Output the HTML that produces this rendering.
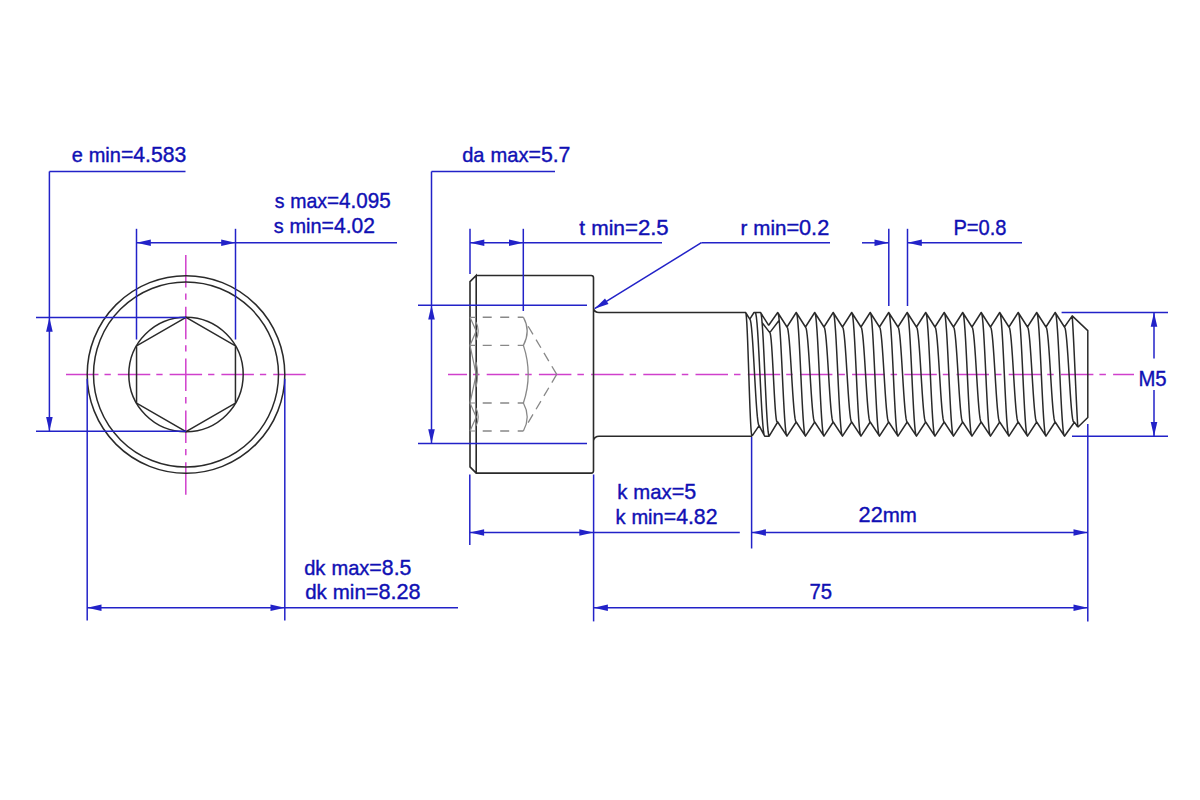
<!DOCTYPE html>
<html><head><meta charset="utf-8"><style>
html,body{margin:0;padding:0;background:#fff;width:1200px;height:800px;overflow:hidden}
svg{display:block}
text{font-family:"Liberation Sans",sans-serif;fill:#1010b4;stroke:#1010b4;stroke-width:0.4px}
</style></head><body>
<svg width="1200" height="800" viewBox="0 0 1200 800">
<rect width="1200" height="800" fill="#fff"/>
<line x1="66.00" y1="374.50" x2="306.00" y2="374.50" stroke="#d040cc" stroke-width="1.5" stroke-dasharray="32.5 6 6.3 7"/>
<line x1="185.80" y1="255.00" x2="185.80" y2="495.00" stroke="#d040cc" stroke-width="1.5" stroke-dasharray="32.5 6 6.3 7"/>
<circle cx="186.0" cy="374.5" r="98.8" fill="none" stroke="#2a2a2a" stroke-width="1.5"/>
<circle cx="186.0" cy="374.5" r="92.5" fill="none" stroke="#2a2a2a" stroke-width="1.5"/>
<circle cx="186.0" cy="374.5" r="57.2" fill="none" stroke="#2a2a2a" stroke-width="1.5"/>
<polygon points="186.00,317.40 136.55,345.95 136.55,403.05 186.00,431.60 235.45,403.05 235.45,345.95" fill="none" stroke="#2a2a2a" stroke-width="1.5"/>
<line x1="49.40" y1="171.50" x2="185.50" y2="171.50" stroke="#2222c8" stroke-width="1.5" />
<line x1="49.40" y1="171.50" x2="49.40" y2="431.30" stroke="#2222c8" stroke-width="1.5" />
<line x1="36.00" y1="317.40" x2="186.00" y2="317.40" stroke="#2222c8" stroke-width="1.5" />
<line x1="36.00" y1="431.30" x2="186.00" y2="431.30" stroke="#2222c8" stroke-width="1.5" />
<polygon points="49.40,317.40 52.70,331.70 46.10,331.70" fill="#2222c8"/>
<polygon points="49.40,431.30 46.10,417.00 52.70,417.00" fill="#2222c8"/>
<text x="71.70" y="161.70" textLength="114.50" lengthAdjust="spacingAndGlyphs" xml:space="preserve"><tspan font-size="20.6">e</tspan><tspan font-size="21.8"> </tspan><tspan font-size="20.6">min</tspan><tspan font-size="21.8">=4.583</tspan></text>
<line x1="136.50" y1="228.80" x2="136.50" y2="339.50" stroke="#2222c8" stroke-width="1.5" />
<line x1="235.50" y1="228.80" x2="235.50" y2="339.50" stroke="#2222c8" stroke-width="1.5" />
<line x1="136.50" y1="242.80" x2="397.00" y2="242.80" stroke="#2222c8" stroke-width="1.5" />
<polygon points="136.50,242.80 150.80,239.50 150.80,246.10" fill="#2222c8"/>
<polygon points="235.50,242.80 221.20,246.10 221.20,239.50" fill="#2222c8"/>
<text x="274.70" y="208.25" textLength="116.00" lengthAdjust="spacingAndGlyphs" xml:space="preserve"><tspan font-size="20.6">s</tspan><tspan font-size="21.8"> </tspan><tspan font-size="20.6">max</tspan><tspan font-size="21.8">=4.095</tspan></text>
<text x="273.70" y="232.50" textLength="101.25" lengthAdjust="spacingAndGlyphs" xml:space="preserve"><tspan font-size="20.6">s</tspan><tspan font-size="21.8"> </tspan><tspan font-size="20.6">min</tspan><tspan font-size="21.8">=4.02</tspan></text>
<line x1="87.20" y1="378.80" x2="87.20" y2="620.60" stroke="#2222c8" stroke-width="1.5" />
<line x1="284.80" y1="378.80" x2="284.80" y2="620.60" stroke="#2222c8" stroke-width="1.5" />
<line x1="87.20" y1="607.80" x2="458.00" y2="607.80" stroke="#2222c8" stroke-width="1.5" />
<polygon points="87.20,607.80 101.50,604.50 101.50,611.10" fill="#2222c8"/>
<polygon points="284.80,607.80 270.50,611.10 270.50,604.50" fill="#2222c8"/>
<text x="304.20" y="574.50" textLength="107.20" lengthAdjust="spacingAndGlyphs" xml:space="preserve"><tspan font-size="20.6">dk</tspan><tspan font-size="21.8"> </tspan><tspan font-size="20.6">max</tspan><tspan font-size="21.8">=8.5</tspan></text>
<text x="305.20" y="598.90" textLength="115.40" lengthAdjust="spacingAndGlyphs" xml:space="preserve"><tspan font-size="20.6">dk</tspan><tspan font-size="21.8"> </tspan><tspan font-size="20.6">min</tspan><tspan font-size="21.8">=8.28</tspan></text>
<line x1="448.00" y1="374.40" x2="1134.00" y2="374.40" stroke="#d040cc" stroke-width="1.5" stroke-dasharray="32.5 6 6.5 7.2" stroke-dashoffset="13.5"/>
<path d="M476,275.5 L591.2,275.5 Q593.5,275.5 593.5,277.8 L593.5,470.8 Q593.5,473.1 591.2,473.1 L476.2,473.1 L470,466.8 L470,281.7 L476.2,275.5 L476.2,473.1 M593.5,308.5 Q594.6,312.5 599,312.5 L746,312.5 M593.5,440.5 Q594.6,436.2 599,436.2 L752,436.2" fill="none" stroke="#2a2a2a" stroke-width="1.6" />
<line x1="476.00" y1="317.30" x2="523.40" y2="317.30" stroke="#888" stroke-width="1.4" stroke-dasharray="0 6.7 9 8.5 9 8.5 6"/>
<line x1="476.00" y1="345.40" x2="523.40" y2="345.40" stroke="#888" stroke-width="1.4" stroke-dasharray="0 6.7 9 8.5 9 8.5 6"/>
<line x1="476.00" y1="403.00" x2="523.40" y2="403.00" stroke="#888" stroke-width="1.4" stroke-dasharray="0 6.7 9 8.5 9 8.5 6"/>
<line x1="476.00" y1="431.00" x2="523.40" y2="431.00" stroke="#888" stroke-width="1.4" stroke-dasharray="0 6.7 9 8.5 9 8.5 6"/>
<path d="M523.4,317.3 Q531,331 523.4,345.4 Q533,374.4 523.4,403 Q531,417 523.4,431" fill="none" stroke="#888" stroke-width="1.3" />
<line x1="556.70" y1="374.40" x2="528.00" y2="326.00" stroke="#888" stroke-width="1.3" stroke-dasharray="9.5 6"/>
<line x1="556.70" y1="374.40" x2="528.00" y2="422.80" stroke="#888" stroke-width="1.3" stroke-dasharray="9.5 6"/>
<path d="M470,317.3 L476.2,331 L470,345.4 L476.2,374.4 L470,403 L476.2,417 L470,431 M470,317.3 L476,317.3 M470,345.4 L476,345.4 M470,403 L476,403 M470,431 L476,431" fill="none" stroke="#888" stroke-width="1.2" />
<path d="M476,322 Q480.4,331 476,340 M476,362 Q479.2,374.4 476,387 M476,408 Q480.4,417 476,426" fill="none" stroke="#888" stroke-width="1.2" />
<line x1="431.50" y1="171.50" x2="555.00" y2="171.50" stroke="#2222c8" stroke-width="1.5" />
<line x1="431.50" y1="171.50" x2="431.50" y2="443.50" stroke="#2222c8" stroke-width="1.5" />
<line x1="418.00" y1="305.20" x2="587.00" y2="305.20" stroke="#2222c8" stroke-width="1.5" />
<line x1="418.00" y1="443.50" x2="587.00" y2="443.50" stroke="#2222c8" stroke-width="1.5" />
<polygon points="431.50,305.20 434.80,319.50 428.20,319.50" fill="#2222c8"/>
<polygon points="431.50,443.50 428.20,429.20 434.80,429.20" fill="#2222c8"/>
<text x="462.20" y="161.75" textLength="108.25" lengthAdjust="spacingAndGlyphs" xml:space="preserve"><tspan font-size="20.6">da</tspan><tspan font-size="21.8"> </tspan><tspan font-size="20.6">max</tspan><tspan font-size="21.8">=5.7</tspan></text>
<line x1="470.00" y1="228.80" x2="470.00" y2="274.00" stroke="#2222c8" stroke-width="1.5" />
<line x1="523.30" y1="228.80" x2="523.30" y2="311.00" stroke="#2222c8" stroke-width="1.5" />
<line x1="470.00" y1="242.80" x2="662.00" y2="242.80" stroke="#2222c8" stroke-width="1.5" />
<polygon points="470.00,242.80 484.30,239.50 484.30,246.10" fill="#2222c8"/>
<polygon points="523.30,242.80 509.00,246.10 509.00,239.50" fill="#2222c8"/>
<text x="579.20" y="234.50" textLength="89.50" lengthAdjust="spacingAndGlyphs" xml:space="preserve"><tspan font-size="20.6">t</tspan><tspan font-size="21.8"> </tspan><tspan font-size="20.6">min</tspan><tspan font-size="21.8">=2.5</tspan></text>
<line x1="701.40" y1="242.70" x2="830.00" y2="242.70" stroke="#2222c8" stroke-width="1.5" />
<line x1="701.40" y1="242.70" x2="594.60" y2="308.70" stroke="#2222c8" stroke-width="1.5" />
<polygon points="594.60,308.70 605.03,298.38 608.50,303.99" fill="#2222c8"/>
<text x="740.50" y="234.70" textLength="88.70" lengthAdjust="spacingAndGlyphs" xml:space="preserve"><tspan font-size="20.6">r</tspan><tspan font-size="21.8"> </tspan><tspan font-size="20.6">min</tspan><tspan font-size="21.8">=0.2</tspan></text>
<line x1="888.80" y1="228.80" x2="888.80" y2="306.00" stroke="#2222c8" stroke-width="1.5" />
<line x1="907.50" y1="228.80" x2="907.50" y2="306.00" stroke="#2222c8" stroke-width="1.5" />
<line x1="862.00" y1="242.80" x2="888.80" y2="242.80" stroke="#2222c8" stroke-width="1.5" />
<line x1="907.50" y1="242.80" x2="1022.00" y2="242.80" stroke="#2222c8" stroke-width="1.5" />
<polygon points="888.80,242.80 874.50,246.10 874.50,239.50" fill="#2222c8"/>
<polygon points="907.50,242.80 921.80,239.50 921.80,246.10" fill="#2222c8"/>
<text x="953.40" y="235.00" textLength="53.10" lengthAdjust="spacingAndGlyphs" xml:space="preserve"><tspan font-size="21.8">P=0.8</tspan></text>
<line x1="1061.60" y1="312.50" x2="1168.00" y2="312.50" stroke="#2222c8" stroke-width="1.5" />
<line x1="1072.00" y1="436.20" x2="1168.00" y2="436.20" stroke="#2222c8" stroke-width="1.5" />
<line x1="1154.00" y1="312.50" x2="1154.00" y2="358.50" stroke="#2222c8" stroke-width="1.5" />
<line x1="1154.00" y1="390.00" x2="1154.00" y2="436.20" stroke="#2222c8" stroke-width="1.5" />
<polygon points="1154.00,312.50 1157.30,326.80 1150.70,326.80" fill="#2222c8"/>
<polygon points="1154.00,436.20 1150.70,421.90 1157.30,421.90" fill="#2222c8"/>
<text x="1138.40" y="385.60" textLength="28.20" lengthAdjust="spacingAndGlyphs" xml:space="preserve"><tspan font-size="21.8">M5</tspan></text>
<line x1="469.80" y1="474.50" x2="469.80" y2="545.00" stroke="#2222c8" stroke-width="1.5" />
<line x1="593.60" y1="474.50" x2="593.60" y2="621.40" stroke="#2222c8" stroke-width="1.5" />
<line x1="469.80" y1="532.50" x2="739.80" y2="532.50" stroke="#2222c8" stroke-width="1.5" />
<polygon points="469.80,532.50 484.10,529.20 484.10,535.80" fill="#2222c8"/>
<polygon points="593.60,532.50 579.30,535.80 579.30,529.20" fill="#2222c8"/>
<text x="617.20" y="498.80" textLength="79.00" lengthAdjust="spacingAndGlyphs" xml:space="preserve"><tspan font-size="20.6">k</tspan><tspan font-size="21.8"> </tspan><tspan font-size="20.6">max</tspan><tspan font-size="21.8">=5</tspan></text>
<text x="615.45" y="523.80" textLength="102.05" lengthAdjust="spacingAndGlyphs" xml:space="preserve"><tspan font-size="20.6">k</tspan><tspan font-size="21.8"> </tspan><tspan font-size="20.6">min</tspan><tspan font-size="21.8">=4.82</tspan></text>
<line x1="751.60" y1="437.00" x2="751.60" y2="548.50" stroke="#2222c8" stroke-width="1.5" />
<line x1="1087.80" y1="424.00" x2="1087.80" y2="621.40" stroke="#2222c8" stroke-width="1.5" />
<line x1="751.60" y1="532.50" x2="1087.80" y2="532.50" stroke="#2222c8" stroke-width="1.5" />
<polygon points="751.60,532.50 765.90,529.20 765.90,535.80" fill="#2222c8"/>
<polygon points="1087.80,532.50 1073.50,535.80 1073.50,529.20" fill="#2222c8"/>
<text x="858.60" y="522.30" textLength="58.30" lengthAdjust="spacingAndGlyphs" xml:space="preserve"><tspan font-size="21.8">22</tspan><tspan font-size="20.6">mm</tspan></text>
<line x1="593.60" y1="607.80" x2="1087.80" y2="607.80" stroke="#2222c8" stroke-width="1.5" />
<polygon points="593.60,607.80 607.90,604.50 607.90,611.10" fill="#2222c8"/>
<polygon points="1087.80,607.80 1073.50,611.10 1073.50,604.50" fill="#2222c8"/>
<text x="809.50" y="598.60" textLength="22.60" lengthAdjust="spacingAndGlyphs" xml:space="preserve"><tspan font-size="21.8">75</tspan></text>
<path d="M777.70,312.50 L778.28,313.69 L778.86,317.21 L779.43,322.92 L780.01,330.62 L780.59,339.99 L781.17,350.68 L781.75,362.28 L782.33,374.35 L782.90,386.42 L783.48,398.02 L784.06,408.71 L784.64,418.08 L785.22,425.78 L785.79,431.49 L786.37,435.01 L786.95,436.20 M786.95,327.00 L787.53,327.91 L788.11,330.62 L788.68,335.01 L789.26,340.91 L789.84,348.11 L790.42,356.32 L791.00,365.23 L791.58,374.50 L792.15,383.77 L792.73,392.68 L793.31,400.89 L793.89,408.09 L794.47,413.99 L795.04,418.38 L795.62,421.09 L796.20,422.00 M796.20,312.50 L796.78,313.69 L797.36,317.21 L797.93,322.92 L798.51,330.62 L799.09,339.99 L799.67,350.68 L800.25,362.28 L800.83,374.35 L801.40,386.42 L801.98,398.02 L802.56,408.71 L803.14,418.08 L803.72,425.78 L804.29,431.49 L804.87,435.01 L805.45,436.20 M805.45,327.00 L806.03,327.91 L806.61,330.62 L807.18,335.01 L807.76,340.91 L808.34,348.11 L808.92,356.32 L809.50,365.23 L810.08,374.50 L810.65,383.77 L811.23,392.68 L811.81,400.89 L812.39,408.09 L812.97,413.99 L813.54,418.38 L814.12,421.09 L814.70,422.00 M814.70,312.50 L815.28,313.69 L815.86,317.21 L816.43,322.92 L817.01,330.62 L817.59,339.99 L818.17,350.68 L818.75,362.28 L819.33,374.35 L819.90,386.42 L820.48,398.02 L821.06,408.71 L821.64,418.08 L822.22,425.78 L822.79,431.49 L823.37,435.01 L823.95,436.20 M823.95,327.00 L824.53,327.91 L825.11,330.62 L825.68,335.01 L826.26,340.91 L826.84,348.11 L827.42,356.32 L828.00,365.23 L828.58,374.50 L829.15,383.77 L829.73,392.68 L830.31,400.89 L830.89,408.09 L831.47,413.99 L832.04,418.38 L832.62,421.09 L833.20,422.00 M833.20,312.50 L833.78,313.69 L834.36,317.21 L834.93,322.92 L835.51,330.62 L836.09,339.99 L836.67,350.68 L837.25,362.28 L837.83,374.35 L838.40,386.42 L838.98,398.02 L839.56,408.71 L840.14,418.08 L840.72,425.78 L841.29,431.49 L841.87,435.01 L842.45,436.20 M842.45,327.00 L843.03,327.91 L843.61,330.62 L844.18,335.01 L844.76,340.91 L845.34,348.11 L845.92,356.32 L846.50,365.23 L847.08,374.50 L847.65,383.77 L848.23,392.68 L848.81,400.89 L849.39,408.09 L849.97,413.99 L850.54,418.38 L851.12,421.09 L851.70,422.00 M851.70,312.50 L852.28,313.69 L852.86,317.21 L853.43,322.92 L854.01,330.62 L854.59,339.99 L855.17,350.68 L855.75,362.28 L856.33,374.35 L856.90,386.42 L857.48,398.02 L858.06,408.71 L858.64,418.08 L859.22,425.78 L859.79,431.49 L860.37,435.01 L860.95,436.20 M860.95,327.00 L861.53,327.91 L862.11,330.62 L862.68,335.01 L863.26,340.91 L863.84,348.11 L864.42,356.32 L865.00,365.23 L865.58,374.50 L866.15,383.77 L866.73,392.68 L867.31,400.89 L867.89,408.09 L868.47,413.99 L869.04,418.38 L869.62,421.09 L870.20,422.00 M870.20,312.50 L870.78,313.69 L871.36,317.21 L871.93,322.92 L872.51,330.62 L873.09,339.99 L873.67,350.68 L874.25,362.28 L874.83,374.35 L875.40,386.42 L875.98,398.02 L876.56,408.71 L877.14,418.08 L877.72,425.78 L878.29,431.49 L878.87,435.01 L879.45,436.20 M879.45,327.00 L880.03,327.91 L880.61,330.62 L881.18,335.01 L881.76,340.91 L882.34,348.11 L882.92,356.32 L883.50,365.23 L884.08,374.50 L884.65,383.77 L885.23,392.68 L885.81,400.89 L886.39,408.09 L886.97,413.99 L887.54,418.38 L888.12,421.09 L888.70,422.00 M888.70,312.50 L889.28,313.69 L889.86,317.21 L890.43,322.92 L891.01,330.62 L891.59,339.99 L892.17,350.68 L892.75,362.28 L893.33,374.35 L893.90,386.42 L894.48,398.02 L895.06,408.71 L895.64,418.08 L896.22,425.78 L896.79,431.49 L897.37,435.01 L897.95,436.20 M897.95,327.00 L898.53,327.91 L899.11,330.62 L899.68,335.01 L900.26,340.91 L900.84,348.11 L901.42,356.32 L902.00,365.23 L902.58,374.50 L903.15,383.77 L903.73,392.68 L904.31,400.89 L904.89,408.09 L905.47,413.99 L906.04,418.38 L906.62,421.09 L907.20,422.00 M907.20,312.50 L907.78,313.69 L908.36,317.21 L908.93,322.92 L909.51,330.62 L910.09,339.99 L910.67,350.68 L911.25,362.28 L911.83,374.35 L912.40,386.42 L912.98,398.02 L913.56,408.71 L914.14,418.08 L914.72,425.78 L915.29,431.49 L915.87,435.01 L916.45,436.20 M916.45,327.00 L917.03,327.91 L917.61,330.62 L918.18,335.01 L918.76,340.91 L919.34,348.11 L919.92,356.32 L920.50,365.23 L921.08,374.50 L921.65,383.77 L922.23,392.68 L922.81,400.89 L923.39,408.09 L923.97,413.99 L924.54,418.38 L925.12,421.09 L925.70,422.00 M925.70,312.50 L926.28,313.69 L926.86,317.21 L927.43,322.92 L928.01,330.62 L928.59,339.99 L929.17,350.68 L929.75,362.28 L930.33,374.35 L930.90,386.42 L931.48,398.02 L932.06,408.71 L932.64,418.08 L933.22,425.78 L933.79,431.49 L934.37,435.01 L934.95,436.20 M934.95,327.00 L935.53,327.91 L936.11,330.62 L936.68,335.01 L937.26,340.91 L937.84,348.11 L938.42,356.32 L939.00,365.23 L939.58,374.50 L940.15,383.77 L940.73,392.68 L941.31,400.89 L941.89,408.09 L942.47,413.99 L943.04,418.38 L943.62,421.09 L944.20,422.00 M944.20,312.50 L944.78,313.69 L945.36,317.21 L945.93,322.92 L946.51,330.62 L947.09,339.99 L947.67,350.68 L948.25,362.28 L948.83,374.35 L949.40,386.42 L949.98,398.02 L950.56,408.71 L951.14,418.08 L951.72,425.78 L952.29,431.49 L952.87,435.01 L953.45,436.20 M953.45,327.00 L954.03,327.91 L954.61,330.62 L955.18,335.01 L955.76,340.91 L956.34,348.11 L956.92,356.32 L957.50,365.23 L958.08,374.50 L958.65,383.77 L959.23,392.68 L959.81,400.89 L960.39,408.09 L960.97,413.99 L961.54,418.38 L962.12,421.09 L962.70,422.00 M962.70,312.50 L963.28,313.69 L963.86,317.21 L964.43,322.92 L965.01,330.62 L965.59,339.99 L966.17,350.68 L966.75,362.28 L967.33,374.35 L967.90,386.42 L968.48,398.02 L969.06,408.71 L969.64,418.08 L970.22,425.78 L970.79,431.49 L971.37,435.01 L971.95,436.20 M971.95,327.00 L972.53,327.91 L973.11,330.62 L973.68,335.01 L974.26,340.91 L974.84,348.11 L975.42,356.32 L976.00,365.23 L976.58,374.50 L977.15,383.77 L977.73,392.68 L978.31,400.89 L978.89,408.09 L979.47,413.99 L980.04,418.38 L980.62,421.09 L981.20,422.00 M981.20,312.50 L981.78,313.69 L982.36,317.21 L982.93,322.92 L983.51,330.62 L984.09,339.99 L984.67,350.68 L985.25,362.28 L985.83,374.35 L986.40,386.42 L986.98,398.02 L987.56,408.71 L988.14,418.08 L988.72,425.78 L989.29,431.49 L989.87,435.01 L990.45,436.20 M990.45,327.00 L991.03,327.91 L991.61,330.62 L992.18,335.01 L992.76,340.91 L993.34,348.11 L993.92,356.32 L994.50,365.23 L995.08,374.50 L995.65,383.77 L996.23,392.68 L996.81,400.89 L997.39,408.09 L997.97,413.99 L998.54,418.38 L999.12,421.09 L999.70,422.00 M999.70,312.50 L1000.28,313.69 L1000.86,317.21 L1001.43,322.92 L1002.01,330.62 L1002.59,339.99 L1003.17,350.68 L1003.75,362.28 L1004.33,374.35 L1004.90,386.42 L1005.48,398.02 L1006.06,408.71 L1006.64,418.08 L1007.22,425.78 L1007.79,431.49 L1008.37,435.01 L1008.95,436.20 M1008.95,327.00 L1009.53,327.91 L1010.11,330.62 L1010.68,335.01 L1011.26,340.91 L1011.84,348.11 L1012.42,356.32 L1013.00,365.23 L1013.58,374.50 L1014.15,383.77 L1014.73,392.68 L1015.31,400.89 L1015.89,408.09 L1016.47,413.99 L1017.04,418.38 L1017.62,421.09 L1018.20,422.00 M1018.20,312.50 L1018.78,313.69 L1019.36,317.21 L1019.93,322.92 L1020.51,330.62 L1021.09,339.99 L1021.67,350.68 L1022.25,362.28 L1022.83,374.35 L1023.40,386.42 L1023.98,398.02 L1024.56,408.71 L1025.14,418.08 L1025.72,425.78 L1026.29,431.49 L1026.87,435.01 L1027.45,436.20 M1027.45,327.00 L1028.03,327.91 L1028.61,330.62 L1029.18,335.01 L1029.76,340.91 L1030.34,348.11 L1030.92,356.32 L1031.50,365.23 L1032.08,374.50 L1032.65,383.77 L1033.23,392.68 L1033.81,400.89 L1034.39,408.09 L1034.97,413.99 L1035.54,418.38 L1036.12,421.09 L1036.70,422.00 M1036.70,312.50 L1037.28,313.69 L1037.86,317.21 L1038.43,322.92 L1039.01,330.62 L1039.59,339.99 L1040.17,350.68 L1040.75,362.28 L1041.33,374.35 L1041.90,386.42 L1042.48,398.02 L1043.06,408.71 L1043.64,418.08 L1044.22,425.78 L1044.79,431.49 L1045.37,435.01 L1045.95,436.20 M1045.95,327.00 L1046.53,327.91 L1047.11,330.62 L1047.68,335.01 L1048.26,340.91 L1048.84,348.11 L1049.42,356.32 L1050.00,365.23 L1050.58,374.50 L1051.15,383.77 L1051.73,392.68 L1052.31,400.89 L1052.89,408.09 L1053.47,413.99 L1054.04,418.38 L1054.62,421.09 L1055.20,422.00 M1055.20,312.50 L1055.78,313.69 L1056.36,317.21 L1056.93,322.92 L1057.51,330.62 L1058.09,339.99 L1058.67,350.68 L1059.25,362.28 L1059.83,374.35 L1060.40,386.42 L1060.98,398.02 L1061.56,408.71 L1062.14,418.08 L1062.72,425.78 L1063.29,431.49 L1063.87,435.01 L1064.45,436.20 M1064.45,327.00 L1065.03,327.91 L1065.61,330.62 L1066.18,335.01 L1066.76,340.91 L1067.34,348.11 L1067.92,356.32 L1068.50,365.23 L1069.08,374.50 L1069.65,383.77 L1070.23,392.68 L1070.81,400.89 L1071.39,408.09 L1071.97,413.99 L1072.54,418.38 L1073.12,421.09 L1073.70,422.00 M768.70,325.30 L777.70,312.50 L786.95,327.00 L796.20,312.50 L805.45,327.00 L814.70,312.50 L823.95,327.00 L833.20,312.50 L842.45,327.00 L851.70,312.50 L860.95,327.00 L870.20,312.50 L879.45,327.00 L888.70,312.50 L897.95,327.00 L907.20,312.50 L916.45,327.00 L925.70,312.50 L934.95,327.00 L944.20,312.50 L953.45,327.00 L962.70,312.50 L971.95,327.00 L981.20,312.50 L990.45,327.00 L999.70,312.50 L1008.95,327.00 L1018.20,312.50 L1027.45,327.00 L1036.70,312.50 L1045.95,327.00 L1055.20,312.50 L1064.45,327.00 L1072.20,315.90 L1087.80,330.60 L1087.80,417.50 L1077.80,427.20 M752,436.2 L759.10,425.60 L764.70,436.20 L769.20,436.20 L777.70,422.00 L786.95,436.20 L796.20,422.00 L805.45,436.20 L814.70,422.00 L823.95,436.20 L833.20,422.00 L842.45,436.20 L851.70,422.00 L860.95,436.20 L870.20,422.00 L879.45,436.20 L888.70,422.00 L897.95,436.20 L907.20,422.00 L916.45,436.20 L925.70,422.00 L934.95,436.20 L944.20,422.00 L953.45,436.20 L962.70,422.00 L971.95,436.20 L981.20,422.00 L990.45,436.20 L999.70,422.00 L1008.95,436.20 L1018.20,422.00 L1027.45,436.20 L1036.70,422.00 L1045.95,436.20 L1055.20,422.00 L1064.45,436.20 L1074.40,422.20 L1077.80,427.20 M1072.2,315.9 C1074,340 1076,400 1077.8,427.2 M745.60,312.50 L746.00,313.69 L746.40,317.21 L746.80,322.92 L747.20,330.62 L747.60,339.99 L748.00,350.68 L748.40,362.28 L748.80,374.35 L749.20,386.42 L749.60,398.02 L750.00,408.71 L750.40,418.08 L750.80,425.78 L751.20,431.49 L751.60,435.01 L752.00,436.20 M745.6,312.5 L749.8,319.1 L754,312.5 L760.5,312.5 L768.7,325.3 M749.80,319.10 L750.38,320.12 L750.96,323.15 L751.54,328.07 L752.12,334.70 L752.71,342.77 L753.29,351.97 L753.87,361.96 L754.45,372.35 L755.03,382.74 L755.61,392.73 L756.19,401.93 L756.77,410.00 L757.36,416.63 L757.94,421.55 L758.52,424.58 L759.10,425.60 M755.20,312.50 L755.79,313.69 L756.39,317.21 L756.98,322.92 L757.58,330.62 L758.17,339.99 L758.76,350.68 L759.36,362.28 L759.95,374.35 L760.54,386.42 L761.14,398.02 L761.73,408.71 L762.33,418.08 L762.92,425.78 L763.51,431.49 L764.11,435.01 L764.70,436.20 M760.50,312.50 L761.04,313.69 L761.59,317.21 L762.13,322.92 L762.67,330.62 L763.22,339.99 L763.76,350.68 L764.31,362.28 L764.85,374.35 L765.39,386.42 L765.94,398.02 L766.48,408.71 L767.03,418.08 L767.57,425.78 L768.11,431.49 L768.66,435.01 L769.20,436.20 M761.6,321.9 L769.8,332.6 L778.8,320.8 M769.80,332.60 L770.26,333.46 L770.71,336.00 L771.17,340.13 L771.62,345.69 L772.08,352.47 L772.54,360.19 L772.99,368.58 L773.45,377.30 L773.91,386.02 L774.36,394.41 L774.82,402.13 L775.27,408.91 L775.73,414.47 L776.19,418.60 L776.64,421.14 L777.10,422.00" fill="none" stroke="#2a2a2a" stroke-width="1.5" stroke-linejoin="round"/>
</svg></body></html>
